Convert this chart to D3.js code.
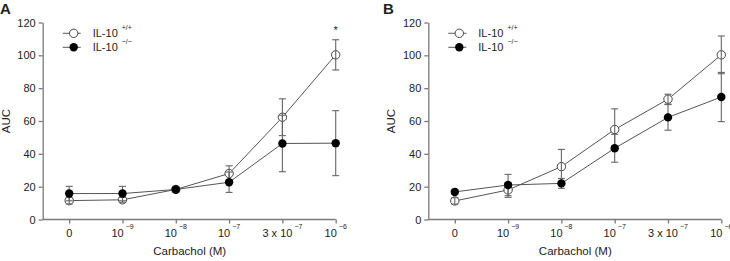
<!DOCTYPE html>
<html>
<head>
<meta charset="utf-8">
<script src="https://cdn.jsdelivr.net/npm/d3@7"></script>
<style>
  body { margin: 0; background: #fff; }
  text { font-family: "Liberation Sans", Arial, sans-serif; fill: #222; }
</style>
</head>
<body>
<svg id="chart" width="730" height="261"></svg>
<script>
// Carbachol-Dosis, Beschriftung als [Basis, Exponent]
var doses = [["0", ""], ["10", "\u22129"], ["10", "\u22128"], ["10", "\u22127"], ["3 x 10", "\u22127"], ["10", "\u22126"]];
var yTicks = [0, 20, 40, 60, 80, 100, 120];

// Panel A
var wtA = [11.5, 12, 18.3, 28, 62.3, 100.3];
var wtAErr = [2, 1.5, 1.5, 4.7, 11.2, 9.2];
var koA = [15.8, 15.8, 18.3, 22.7, 46.3, 46.5];
var koAErr = [4.4, 4.4, 1.5, 6.2, 17.2, 19.8];

// Panel B
var wtB = [11.3, 18, 32.2, 54.8, 73.3, 100.3];
var wtBErr = [2, 4.5, 10.5, 12.6, 3, 11.5];
var koB = [16.8, 21, 22, 43.4, 62.2, 74.6];
var koBErr = [1.5, 6.5, 3, 8.5, 7.8, 15];

var svg = d3.select("#chart");

function panel(ox, letter, letterX, wt, wtErr, ko, koErr, star) {
    var g = svg.append("g");

    var x = d3.scalePoint()
        .domain(d3.range(doses.length))
        .range([ox + 26.5, ox + 293]);
    var y = d3.scaleLinear()
        .domain([0, 120])
        .range([219.5, 22.5]);

    // y-Achse
    var yAxis = g.append("g")
        .attr("transform", "translate(" + ox + ",0)")
        .call(d3.axisLeft(y).tickValues(yTicks).tickSize(4).tickSizeOuter(0).tickPadding(3));
    // x-Achse
    var xAxis = g.append("g")
        .attr("transform", "translate(0,219.5)")
        .call(d3.axisBottom(x).tickSize(4).tickSizeOuter(0).tickFormat("").tickPadding(4));

    xAxis.select(".domain").attr("d", "M" + ox + ",0H" + (ox + 293));

    g.selectAll(".domain, .tick line")
        .attr("stroke", "#7a7a7a")
        .attr("stroke-width", 1.3);
    yAxis.selectAll("text")
        .attr("font-size", "11px")
        .attr("fill", "#222")
        .style("font-family", "'Liberation Sans', Arial, sans-serif");

    // x-Beschriftung mit Exponent
    var lab = g.selectAll(".xlab")
        .data(doses).enter()
        .append("text")
        .attr("class", "xlab")
        .attr("x", function (d, i) { return x(i); })
        .attr("y", 237)
        .attr("text-anchor", "middle")
        .attr("font-size", "11px");
    lab.append("tspan").text(function (d) { return d[0]; });
    lab.append("tspan")
        .attr("dx", 2)
        .attr("dy", -8)
        .attr("font-size", "7px")
        .text(function (d) { return d[1]; });

    g.append("text")
        .attr("x", ox + 147)
        .attr("y", 255)
        .attr("text-anchor", "middle")
        .attr("font-size", "11.5px")
        .text("Carbachol (M)");

    g.append("text")
        .attr("transform", "translate(" + (ox - 33) + ",121) rotate(-90)")
        .attr("text-anchor", "middle")
        .attr("font-size", "11.5px")
        .text("AUC");

    g.append("text")
        .attr("x", letterX)
        .attr("y", 14)
        .attr("font-size", "15px")
        .attr("font-weight", "bold")
        .text(letter);

    var line = d3.line()
        .x(function (d, i) { return x(i); })
        .y(function (d) { return y(d); });

    [wt, ko].forEach(function (s) {
        g.append("path")
            .attr("d", line(s))
            .attr("fill", "none")
            .attr("stroke", "#555")
            .attr("stroke-width", 1);
    });

    // offene Kreise (Wildtyp)
    g.selectAll(".wt")
        .data(wt).enter()
        .append("circle")
        .attr("cx", function (d, i) { return x(i); })
        .attr("cy", function (d) { return y(d); })
        .attr("r", 4.2)
        .attr("fill", "#fff")
        .attr("stroke", "#444")
        .attr("stroke-width", 1);

    // Fehlerbalken
    [[wt, wtErr], [ko, koErr]].forEach(function (p) {
        var eb = g.append("g");
        p[0].forEach(function (v, i) {
            var e = p[1][i];
            var cx = x(i);
            eb.append("line")
                .attr("x1", cx).attr("x2", cx)
                .attr("y1", y(v + e)).attr("y2", y(v - e));
            [v + e, v - e].forEach(function (c) {
                eb.append("line")
                    .attr("x1", cx - 3.5).attr("x2", cx + 3.5)
                    .attr("y1", y(c)).attr("y2", y(c));
            });
        });
        eb.selectAll("line")
            .attr("stroke", "#666")
            .attr("stroke-width", 1.1);
    });

    // gefüllte Kreise (Knockout)
    g.selectAll(".ko")
        .data(ko).enter()
        .append("circle")
        .attr("cx", function (d, i) { return x(i); })
        .attr("cy", function (d) { return y(d); })
        .attr("r", 4.2)
        .attr("fill", "#000");

    if (star) {
        g.append("text")
            .attr("x", x(5))
            .attr("y", 34)
            .attr("text-anchor", "middle")
            .attr("font-size", "11px")
            .attr("fill", "#444")
            .text("*");
    }

    // Legende
    var lx = ox + 20;
    var rows = [["+/+", "#fff"], ["\u2212/\u2212", "#000"]];
    rows.forEach(function (r, i) {
        var ly = 33.3 + i * 14;
        g.append("line")
            .attr("x1", lx).attr("x2", lx + 18)
            .attr("y1", ly).attr("y2", ly)
            .attr("stroke", "#555");
        g.append("circle")
            .attr("cx", lx + 11).attr("cy", ly)
            .attr("r", 4.2)
            .attr("fill", r[1])
            .attr("stroke", i === 0 ? "#444" : "none");
        var t = g.append("text")
            .attr("x", lx + 30)
            .attr("y", ly + 4)
            .attr("font-size", "11px");
        t.append("tspan").text("IL-10");
        t.append("tspan")
            .attr("dx", 4)
            .attr("dy", -7)
            .attr("font-size", "7px")
            .text(r[0]);
    });
}

panel(42.7, "A", 0, wtA, wtAErr, koA, koAErr, true);
panel(428.3, "B", 383, wtB, wtBErr, koB, koBErr, false);
</script>
</body>
</html>
